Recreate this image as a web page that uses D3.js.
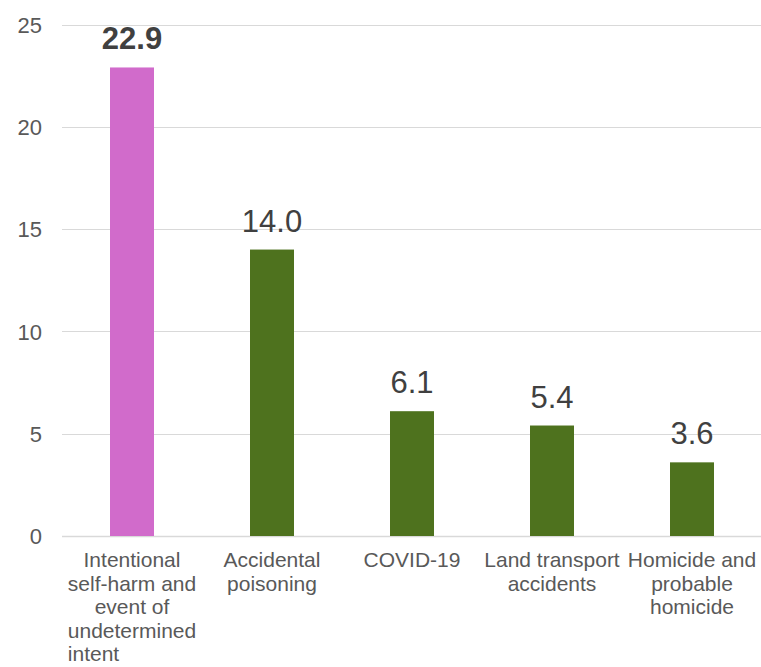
<!DOCTYPE html>
<html>
<head>
<meta charset="utf-8">
<script src="https://cdn.jsdelivr.net/npm/d3@7"></script>
<style>
  html, body { margin: 0; padding: 0; background: #ffffff; }
  svg { display: block; font-family: "Liberation Sans", Arial, sans-serif; }
</style>
</head>
<body>
<svg id="chart" width="761" height="667"></svg>
<script>
// ---- data ----
const categories = [
  "Intentional\nself-harm and\nevent of\nundetermined\nintent",
  "Accidental\npoisoning",
  "COVID-19",
  "Land transport\naccidents",
  "Homicide and\nprobable\nhomicide"
];
const values = [22.9, 14.0, 6.1, 5.4, 3.6];
const highlighted = [true, false, false, false, false];
const yTicks = [0, 5, 10, 15, 20, 25];

// ---- layout ----
const plotLeft = 62, plotRight = 762, plotTop = 24.5, plotBottom = 536;
const svg = d3.select("#chart");

const x = d3.scaleBand()
  .domain(d3.range(categories.length))
  .range([plotLeft, plotRight])
  .paddingInner(0.6857)
  .paddingOuter(0.6857 / 2);

const y = d3.scaleLinear().domain([0, 25]).range([plotBottom, plotTop]);

// gridlines
svg.append("g").selectAll("line")
  .data(yTicks)
  .join("line")
  .attr("x1", plotLeft).attr("x2", plotRight)
  .attr("y1", d => Math.round(y(d)) + 0.5)
  .attr("y2", d => Math.round(y(d)) + 0.5)
  .attr("stroke", "#d9d9d9")
  .attr("stroke-width", d => d === 0 ? 1.5 : 1);

// y axis labels
const yAxis = d3.axisLeft(y).tickValues(yTicks).tickSize(0).tickPadding(0);
const ya = svg.append("g").attr("transform", `translate(42,0)`).call(yAxis);
ya.select(".domain").remove();
ya.selectAll("text")
  .attr("fill", "#595959")
  .attr("font-size", "22px")
  .attr("font-family", "Liberation Sans, Arial, sans-serif")
  .attr("dy", "0.35em")
  .attr("x", 0);

// bars
svg.append("g").selectAll("rect")
  .data(values)
  .join("rect")
  .attr("x", (d, i) => x(i))
  .attr("width", x.bandwidth())
  .attr("y", d => y(d))
  .attr("height", d => y(0) - y(d))
  .attr("fill", (d, i) => highlighted[i] ? "#d16bcb" : "#4e721e");

// value labels
const fmt = d3.format(".1f");
svg.append("g").selectAll("text")
  .data(values)
  .join("text")
  .attr("x", (d, i) => x(i) + x.bandwidth() / 2)
  .attr("y", d => y(d) - 18)
  .attr("text-anchor", "middle")
  .attr("font-size", "31px")
  .attr("font-weight", (d, i) => highlighted[i] ? "bold" : "normal")
  .attr("fill", "#404040")
  .text(d => fmt(d));

// category labels
const catG = svg.append("g");
categories.forEach((c, i) => {
  const lines = c.split("\n");
  const cx = x(i) + x.bandwidth() / 2;
  const g = catG.append("g");
  const texts = lines.map((ln, j) => g.append("text")
    .attr("x", cx)
    .attr("y", 567 + j * 23.5)
    .attr("text-anchor", "middle")
    .attr("font-size", "21px")
    .attr("fill", "#595959")
    .text(ln));
  // first category: last wrapped line sits at the left edge of the block (as in source)
  if (i === 0 && texts.length > 1) {
    const maxW = d3.max(texts, t => t.node().getComputedTextLength());
    texts[texts.length - 1]
      .attr("text-anchor", "start")
      .attr("x", cx - maxW / 2);
  }
});
</script>
</body>
</html>
